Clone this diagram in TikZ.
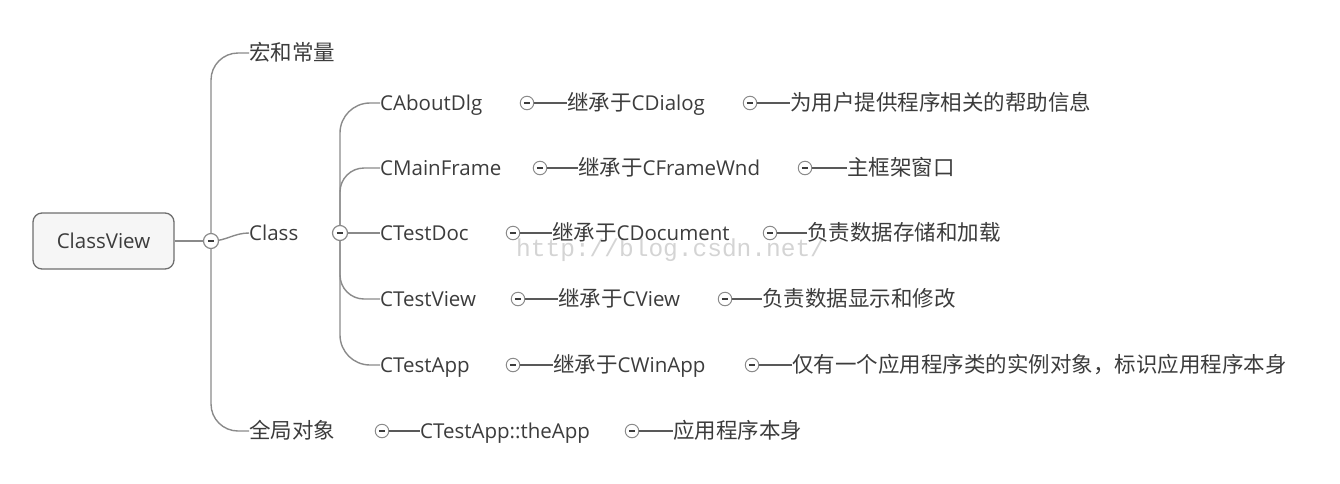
\documentclass[tikz,border=0pt]{standalone}
\usepackage{fontspec}
\setmainfont{Open Sans}
\newfontfamily\cjk{Noto Sans CJK SC}
\newfontfamily\wmfont{Liberation Mono}
\usetikzlibrary{backgrounds}
\definecolor{txtc}{HTML}{3C3C3C}
\definecolor{linec}{HTML}{8A8A8A}
\definecolor{boxfill}{HTML}{F6F6F6}
\definecolor{wmc}{HTML}{D4D4D4}
\newcommand\zhtxt[1]{{\cjk\fontsize{21.5}{24}\selectfont #1}}
\begin{document}
\begin{tikzpicture}[x=1pt,y=-1pt,
 lbl/.style={anchor=west, inner sep=0pt, text height=17pt, text depth=2pt, text=txtc, font=\fontsize{20.5}{24}\selectfont},
 tog/.style={circle, draw=linec, fill=white, line width=1pt, minimum size=13.5pt, inner sep=0pt,
   path picture={\draw[line width=1.8pt, txtc] ([xshift=-3.2pt]path picture bounding box.center) -- ([xshift=3.2pt]path picture bounding box.center);}},
 bigtog/.style={tog, minimum size=15pt, line width=1.2pt},
 trunk/.style={draw=linec, line width=1.4pt},
 leaf/.style={draw=txtc!85, line width=1.1pt},
 wm/.style={anchor=west, inner sep=0pt, text=wmc, font=\wmfont\fontsize{24.5}{26}\selectfont},
 rootbox/.style={rounded corners=9pt, draw=linec!80!black, fill=boxfill, line width=1.3pt, minimum width=141pt, minimum height=56pt, inner sep=0pt, text=txtc, font=\fontsize{20.5}{24}\selectfont}
]
\useasboundingbox (0,0) rectangle (1340,483);

\node[wm] (wm) at (516,250) {http://blog.csdn.net/};

\node[rootbox] (cv) at (103.5,241) {ClassView};
\node[bigtog] (c0) at (211,241) {};
\node[lbl] (macro) at (249,53) {\zhtxt{宏和常量}};
\node[lbl] (class) at (249,233) {Class};
\node[lbl] (global) at (249,431) {\zhtxt{全局对象}};
\node[bigtog] (c1) at (340,233) {};

% CAboutDlg row
\node[lbl] (about) at (380,103) {CAboutDlg};
\node[tog] (ta1) at (527,103) {};
\node[lbl] (about2) at (567,103) {\zhtxt{继承于}CDialog};
\node[tog] (ta2) at (750,103) {};
\node[lbl] (about3) at (790,103) {\zhtxt{为用户提供程序相关的帮助信息}};

% CMainFrame row
\node[lbl] (mainf) at (380,168) {CMainFrame};
\node[tog] (tm1) at (540,168) {};
\node[lbl] (mainf2) at (578,168) {\zhtxt{继承于}CFrameWnd};
\node[tog] (tm2) at (805,168) {};
\node[lbl] (mainf3) at (847,168) {\zhtxt{主框架窗口}};

% CTestDoc row
\node[lbl] (doc) at (380,233) {CTestDoc};
\node[tog] (td1) at (513,233) {};
\node[lbl] (doc2) at (552,233) {\zhtxt{继承于}CDocument};
\node[tog] (td2) at (770,233) {};
\node[lbl] (doc3) at (807,233) {\zhtxt{负责数据存储和加载}};

% CTestView row
\node[lbl] (view) at (380,299) {CTestView};
\node[tog] (tv1) at (518,299) {};
\node[lbl] (view2) at (558,299) {\zhtxt{继承于}CView};
\node[tog] (tv2) at (725,299) {};
\node[lbl] (view3) at (762,299) {\zhtxt{负责数据显示和修改}};

% CTestApp row
\node[lbl] (app) at (380,365) {CTestApp};
\node[tog] (tp1) at (513,365) {};
\node[lbl] (app2) at (553,365) {\zhtxt{继承于}CWinApp};
\node[tog] (tp2) at (752,365) {};
\node[lbl] (app3) at (792,365) {\zhtxt{仅有一个应用程序类的实例对象，标识应用程序本身}};

% global row
\node[tog] (tg1) at (382,431) {};
\node[lbl] (glob2) at (420,431) {CTestApp::theApp};
\node[tog] (tg2) at (632,431) {};
\node[lbl] (glob3) at (673,431) {\zhtxt{应用程序本身}};

\begin{scope}[on background layer]
\draw[trunk] (cv.east) -- (c0.center);
\draw[trunk, rounded corners=27pt] (c0.center) |- (macro.west);
\draw[trunk, rounded corners=27pt] (c0.center) |- (global.west);
\draw[trunk] (c0.center) to[out=0,in=180] (class.west);
\draw[trunk, rounded corners=30pt] (c1.center) |- (about.west);
\draw[trunk, rounded corners=24pt] (c1.center) |- (mainf.west);
\draw[trunk] (c1.center) -- (doc.west);
\draw[trunk, rounded corners=24pt] (c1.center) |- (view.west);
\draw[trunk, rounded corners=30pt] (c1.center) |- (app.west);
\end{scope}

\draw[leaf] (ta1) -- (about2.west);
\draw[leaf] (ta2) -- (about3.west);
\draw[leaf] (tm1) -- (mainf2.west);
\draw[leaf] (tm2) -- (mainf3.west);
\draw[leaf] (td1) -- (doc2.west);
\draw[leaf] (td2) -- (doc3.west);
\draw[leaf] (tv1) -- (view2.west);
\draw[leaf] (tv2) -- (view3.west);
\draw[leaf] (tp1) -- (app2.west);
\draw[leaf] (tp2) -- (app3.west);
\draw[leaf] (tg1) -- (glob2.west);
\draw[leaf] (tg2) -- (glob3.west);
\end{tikzpicture}
\end{document}
